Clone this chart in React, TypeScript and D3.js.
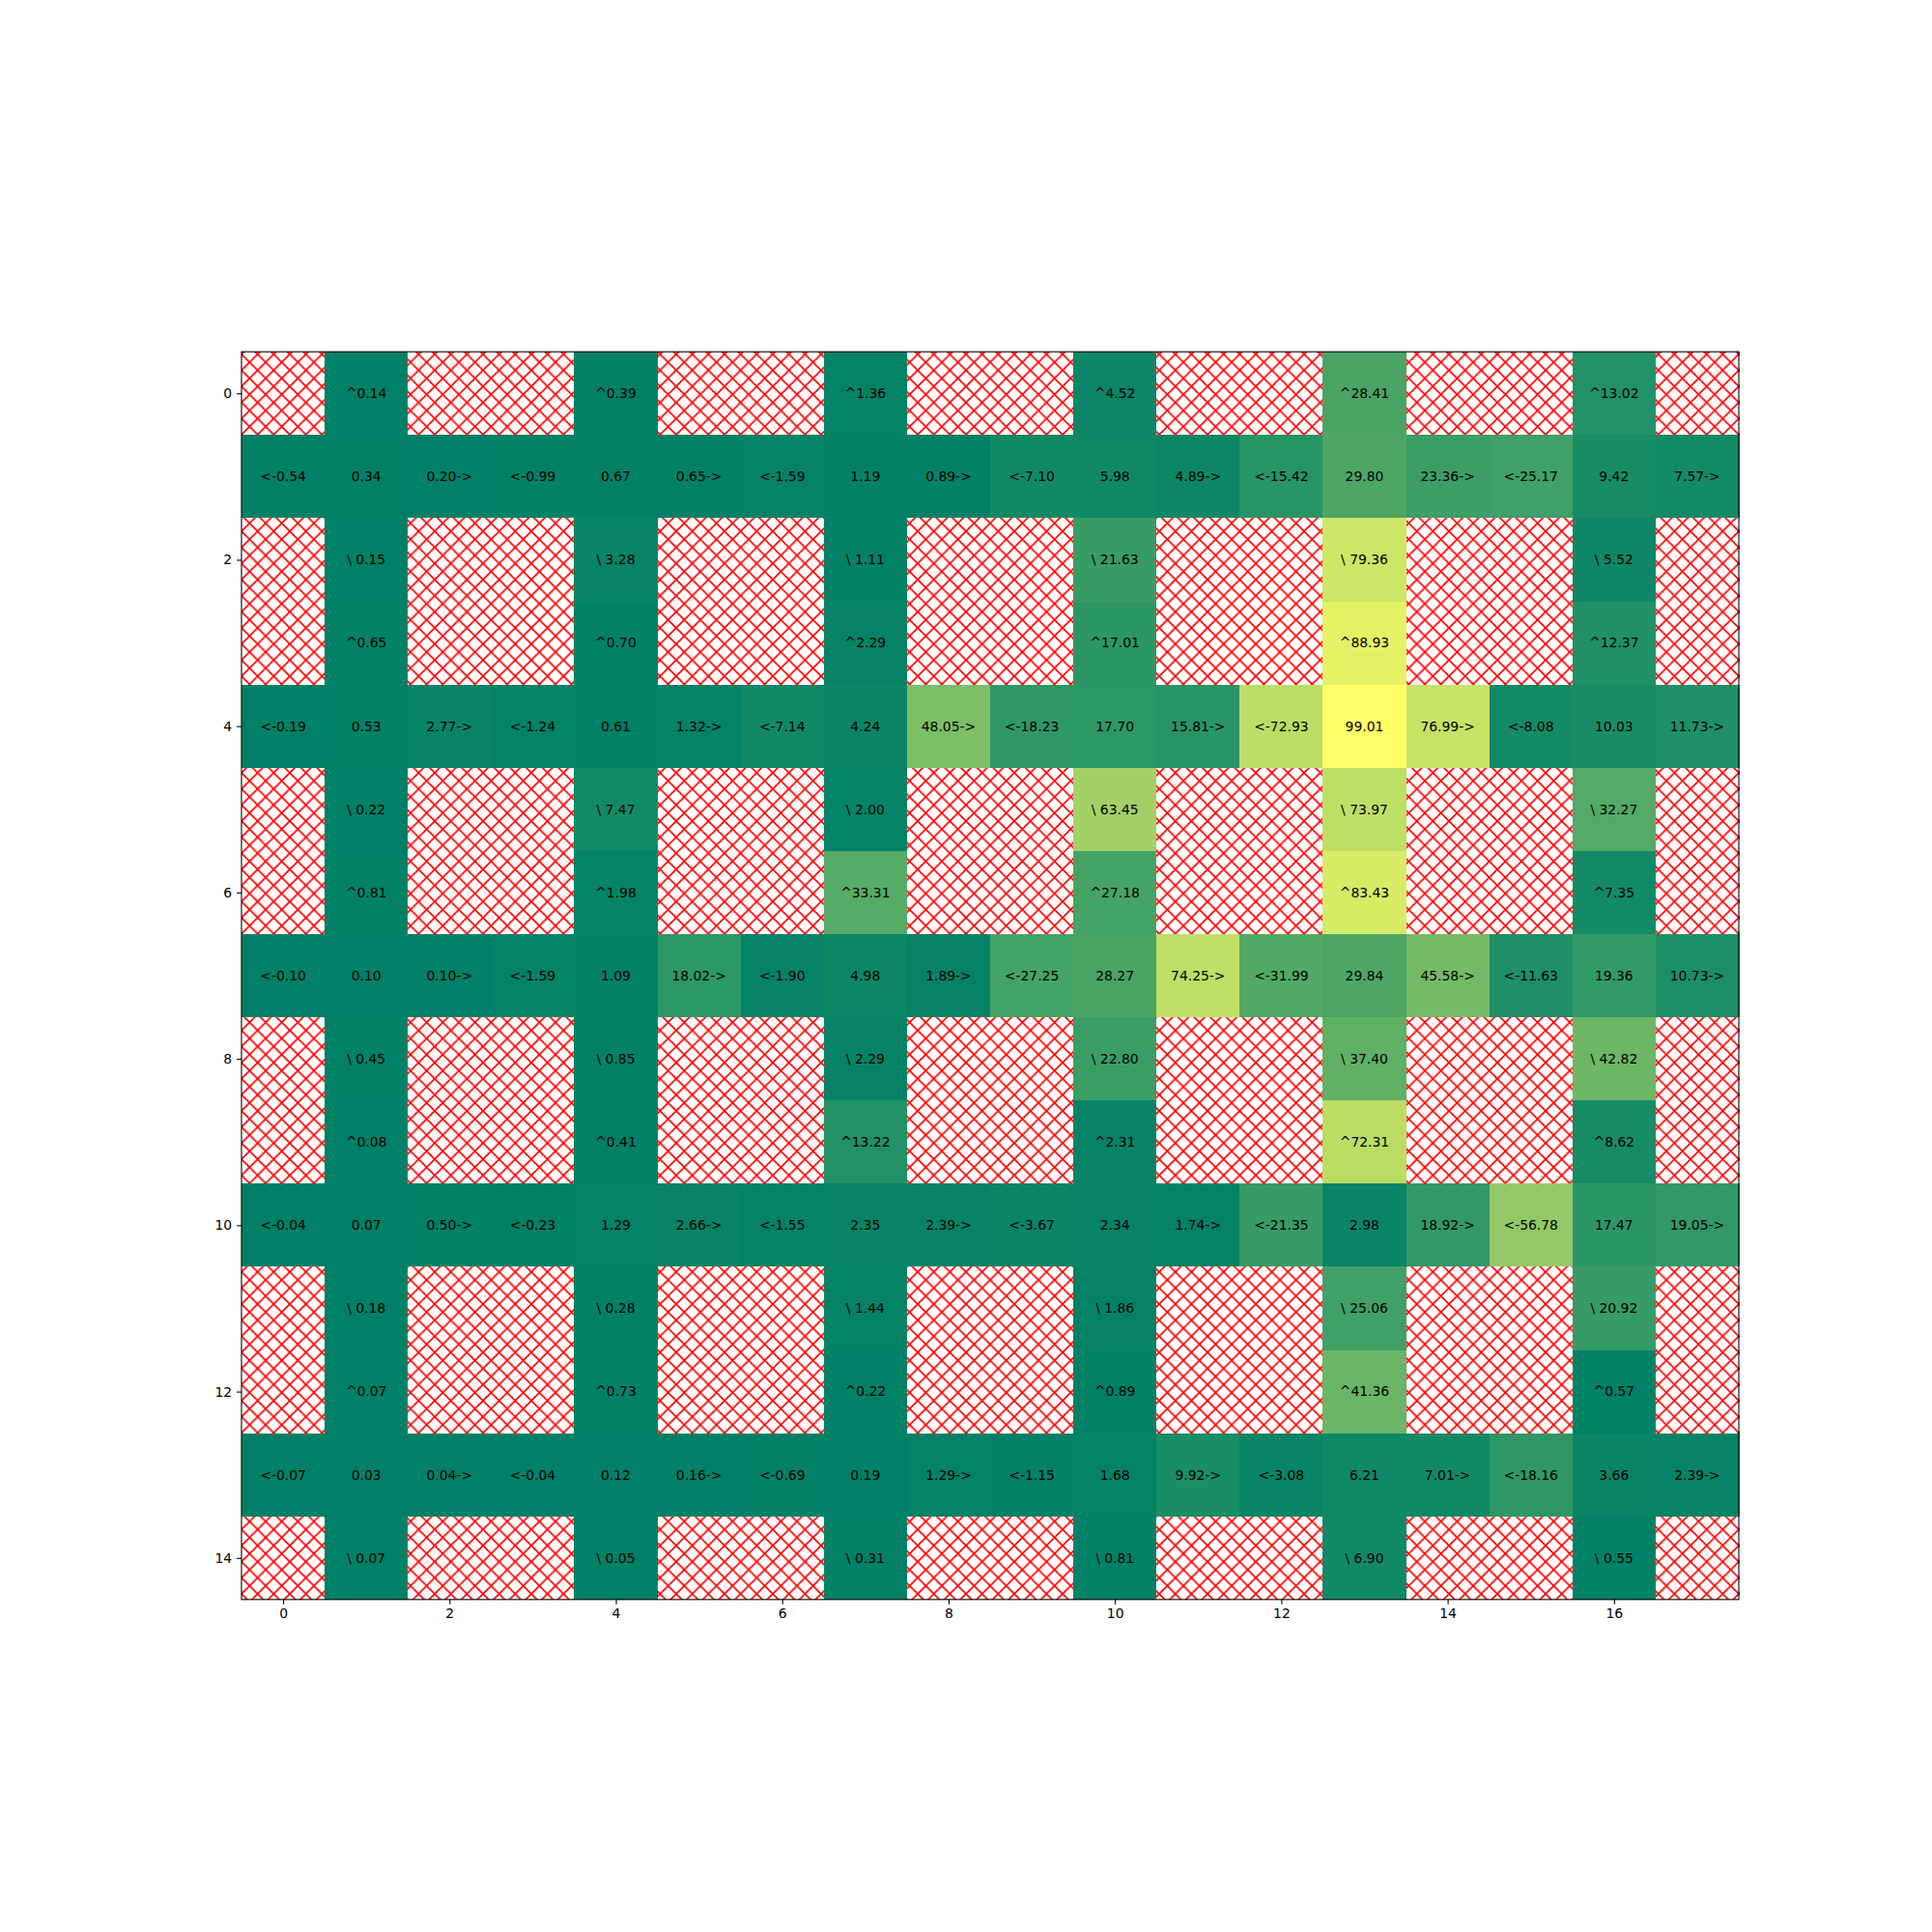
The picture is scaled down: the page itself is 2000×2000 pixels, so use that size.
import React, { useEffect, useRef } from 'react';
import * as d3 from 'd3';

// values per row, null = no data (hatched)
const r0 = [null, 0.14, null, null, 0.39, null, null, 1.36, null, null, 4.52, null, null, 28.41, null, null, 13.02, null];
const r1 = [0.54, 0.34, 0.2, 0.99, 0.67, 0.65, 1.59, 1.19, 0.89, 7.1, 5.98, 4.89, 15.42, 29.8, 23.36, 25.17, 9.42, 7.57];
const r2 = [null, 0.15, null, null, 3.28, null, null, 1.11, null, null, 21.63, null, null, 79.36, null, null, 5.52, null];
const r3 = [null, 0.65, null, null, 0.7, null, null, 2.29, null, null, 17.01, null, null, 88.93, null, null, 12.37, null];
const r4 = [0.19, 0.53, 2.77, 1.24, 0.61, 1.32, 7.14, 4.24, 48.05, 18.23, 17.7, 15.81, 72.93, 99.01, 76.99, 8.08, 10.03, 11.73];
const r5 = [null, 0.22, null, null, 7.47, null, null, 2.0, null, null, 63.45, null, null, 73.97, null, null, 32.27, null];
const r6 = [null, 0.81, null, null, 1.98, null, null, 33.31, null, null, 27.18, null, null, 83.43, null, null, 7.35, null];
const r7 = [0.1, 0.1, 0.1, 1.59, 1.09, 18.02, 1.9, 4.98, 1.89, 27.25, 28.27, 74.25, 31.99, 29.84, 45.58, 11.63, 19.36, 10.73];
const r8 = [null, 0.45, null, null, 0.85, null, null, 2.29, null, null, 22.8, null, null, 37.4, null, null, 42.82, null];
const r9 = [null, 0.08, null, null, 0.41, null, null, 13.22, null, null, 2.31, null, null, 72.31, null, null, 8.62, null];
const r10 = [0.04, 0.07, 0.5, 0.23, 1.29, 2.66, 1.55, 2.35, 2.39, 3.67, 2.34, 1.74, 21.35, 2.98, 18.92, 56.78, 17.47, 19.05];
const r11 = [null, 0.18, null, null, 0.28, null, null, 1.44, null, null, 1.86, null, null, 25.06, null, null, 20.92, null];
const r12 = [null, 0.07, null, null, 0.73, null, null, 0.22, null, null, 0.89, null, null, 41.36, null, null, 0.57, null];
const r13 = [0.07, 0.03, 0.04, 0.04, 0.12, 0.16, 0.69, 0.19, 1.29, 1.15, 1.68, 9.92, 3.08, 6.21, 7.01, 18.16, 3.66, 2.39];
const r14 = [null, 0.07, null, null, 0.05, null, null, 0.31, null, null, 0.81, null, null, 6.9, null, null, 0.55, null];
const rows: (number | null)[][] = [r0, r1, r2, r3, r4, r5, r6, r7, r8, r9, r10, r11, r12, r13, r14];

const xTicks = [0, 2, 4, 6, 8, 10, 12, 14, 16];
const yTicks = [0, 2, 4, 6, 8, 10, 12, 14];

function cellLabel(v: number, r: number, c: number) {
  const s = v.toFixed(2);
  if (r % 3 === 1) {
    if (c % 3 === 0) return '<-' + s;
    if (c % 3 === 2) return s + '->';
    return s;
  }
  return r % 3 === 0 ? '^' + s : '\\ ' + s;
}

export default function App() {
  const ref = useRef<SVGSVGElement>(null);

  useEffect(() => {
    const svg = d3.select(ref.current);
    svg.selectAll('*').remove();

    const nCols = r0.length, nRows = rows.length;
    const x = d3.scaleLinear().domain([-0.5, nCols - 0.5]).range([250, 1800]);
    const cell = (1800 - 250) / nCols;
    const top = 1010 - (cell * nRows) / 2;
    const y = d3.scaleLinear().domain([-0.5, nRows - 0.5]).range([top, top + cell * nRows]);

    const all = rows.flat().filter((v): v is number => v != null);
    const color = d3.scaleLinear<string>()
      .domain([d3.min(all)!, d3.max(all)!])
      .range(['rgb(0,128,102)', 'rgb(255,255,102)'])
      .interpolate(d3.interpolateRgb);

    // hatch for missing cells, anchored to page origin like matplotlib
    const p = 100 / 6;
    const pat = svg.append('defs').append('pattern')
      .attr('id', 'hatch')
      .attr('patternUnits', 'userSpaceOnUse')
      .attr('width', p).attr('height', p);
    pat.append('rect').attr('width', p).attr('height', p).attr('fill', 'white');
    pat.append('path')
      .attr('d', `M${-p},${-p}L${2 * p},${2 * p}M${2 * p},${-p}L${-p},${2 * p}`)
      .attr('stroke', 'red').attr('stroke-width', 1.7).attr('fill', 'none');

    const g = svg.append('g');
    rows.forEach((row, r) => {
      row.forEach((v, c) => {
        g.append('rect')
          .attr('x', x(c - 0.5)).attr('y', y(r - 0.5))
          .attr('width', x(c + 0.5) - x(c - 0.5) + 0.5)
          .attr('height', y(r + 0.5) - y(r - 0.5) + 0.5)
          .attr('shape-rendering', 'crispEdges')
          .attr('fill', v == null ? 'url(#hatch)' : color(v));
      });
    });

    rows.forEach((row, r) => {
      row.forEach((v, c) => {
        if (v == null) return;
        g.append('text')
          .attr('x', x(c)).attr('y', y(r)).attr('dy', '0.35em')
          .attr('text-anchor', 'middle')
          .attr('font-family', 'DejaVu Sans')
          .attr('font-size', 13.9)
          .attr('fill', 'black')
          .text(cellLabel(v, r, c));
      });
    });

    svg.append('rect')
      .attr('x', 250).attr('y', top)
      .attr('width', 1550).attr('height', cell * nRows)
      .attr('fill', 'none').attr('stroke', 'black').attr('stroke-width', 1.1);

    const xa = svg.append('g')
      .attr('transform', `translate(0,${top + cell * nRows})`)
      .call(d3.axisBottom(x).tickValues(xTicks).tickSize(4.9).tickPadding(4.9).tickSizeOuter(0).tickFormat(d3.format('d')));
    const ya = svg.append('g')
      .attr('transform', 'translate(250,0)')
      .call(d3.axisLeft(y).tickValues(yTicks).tickSize(4.9).tickPadding(4.9).tickSizeOuter(0).tickFormat(d3.format('d')));
    [xa, ya].forEach((a) => {
      a.select('.domain').remove();
      a.selectAll('line').attr('stroke-width', 1.1);
      a.selectAll('text').attr('font-family', 'DejaVu Sans').attr('font-size', 13.9).attr('fill', 'black');
    });
  }, []);

  return (
    <svg ref={ref} width={2000} height={2000}
      style={{ position: 'absolute', left: 0, top: 0, background: 'white' }} />
  );
}
